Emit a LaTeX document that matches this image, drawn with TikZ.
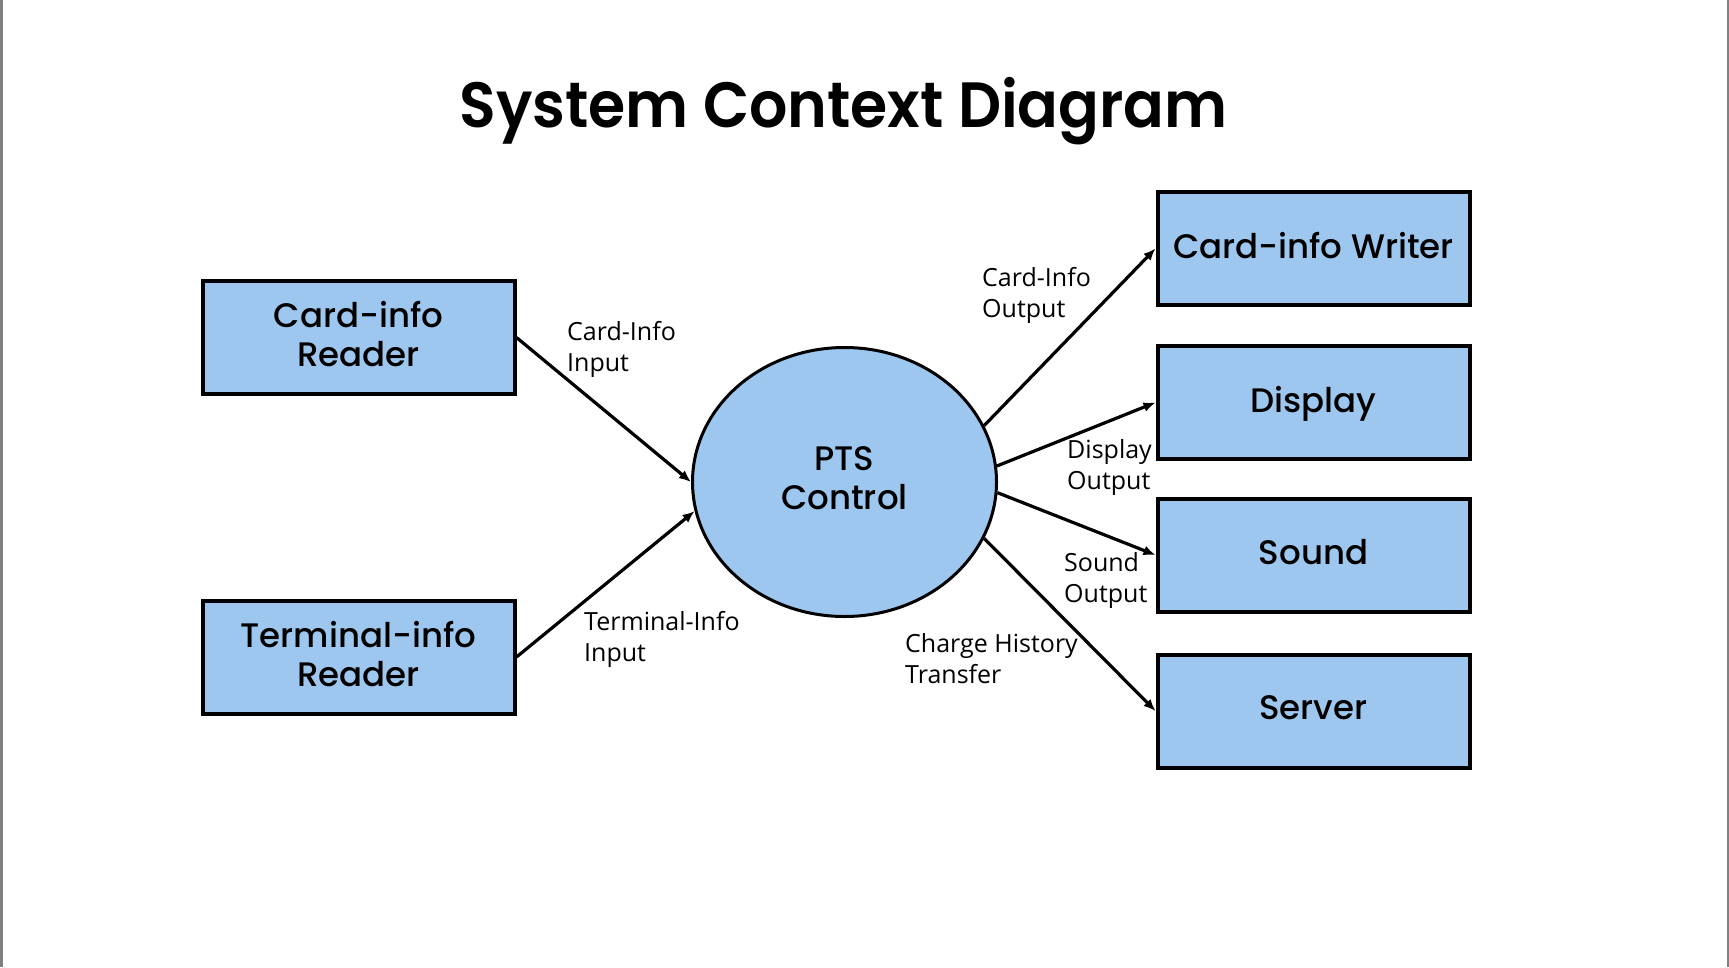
\documentclass[tikz,border=0pt]{standalone}
\usepackage{fontspec}
\setmainfont{Poppins}
\newfontfamily\ttlfont{Poppins}[UprightFont={* SemiBold}]
\newfontfamily\entfont{Poppins}[UprightFont={* Medium}]
\newfontfamily\lblfont{Open Sans}
\usetikzlibrary{shapes.geometric,arrows.meta}
\definecolor{entfill}{RGB}{157,199,238}
\definecolor{frame}{RGB}{128,128,128}
\tikzset{
  ent/.style={draw=black, line width=4pt, fill=entfill, rectangle,
    minimum width=312pt, minimum height=113pt, inner sep=0pt, align=center,
    text depth=7pt, font=\entfont\fontsize{34}{39}\selectfont},
  proc/.style={draw=black, line width=3pt, fill=entfill, ellipse,
    minimum width=304pt, minimum height=269pt, inner sep=0pt, align=center,
    text depth=7pt, font=\entfont\fontsize{34}{39}\selectfont},
  flow/.style={draw=black, line width=3.2pt, -{Latex[length=12pt,width=10pt]}},
  lbl/.style={anchor=west, inner sep=0pt, align=left,
    font=\lblfont\fontsize{25}{31}\selectfont},
  ttl/.style={anchor=base, inner sep=0pt,
    font=\ttlfont\fontsize{64}{70}\selectfont}
}
\begin{document}
\begin{tikzpicture}[x=1pt,y=-1pt]
  \useasboundingbox (0,0) rectangle (1729,967);
  \fill[white] (0,0) rectangle (1729,967);
  % page frame
  \fill[frame] (0,0) rectangle (3,967);
  \fill[frame] (1727,0) rectangle (1729,967);

  \node[ttl] (title) at (843.5,127) {\scalebox{0.94}[1]{System Context Diagram}};

  % external entities
  \node[ent] (cr) at (358.5,337.5) {Card-info\\Reader};
  \node[ent] (tr) at (358.5,657) {Terminal-info\\Reader};
  \node[ent] (cw) at (1313.5,248.5) {Card-info Writer};
  \node[ent] (dp) at (1313.5,402.5) {Display};
  \node[ent] (sd) at (1313.5,555) {Sound};
  \node[ent] (sv) at (1313.5,711) {Server};

  % process
  \node[proc] (pts) at (844.5,482) {PTS\\Control};

  % data flows
  \draw[flow] (cr.east) -- (pts.180);
  \draw[flow] (tr.east) -- (pts.191);
  \draw[flow] (pts.22) -- (cw.west);
  \draw[flow] (pts.6) -- (dp.west);
  \draw[flow] (pts.-4.5) -- (sd.west);
  \draw[flow] (pts.-22) -- (sv.west);

  % flow labels
  \node[lbl] (l1) at (567,349) {Card-Info\\Input};
  \node[lbl] (l2) at (584,639.5) {Terminal-Info\\Input};
  \node[lbl] (l3) at (982,295.5) {Card-Info\\Output};
  \node[lbl] (l4) at (1067,467) {Display\\Output};
  \node[lbl] (l5) at (1064,580) {Sound\\Output};
  \node[lbl] (l6) at (905,659) {Charge History\\Transfer};
\end{tikzpicture}
\end{document}
